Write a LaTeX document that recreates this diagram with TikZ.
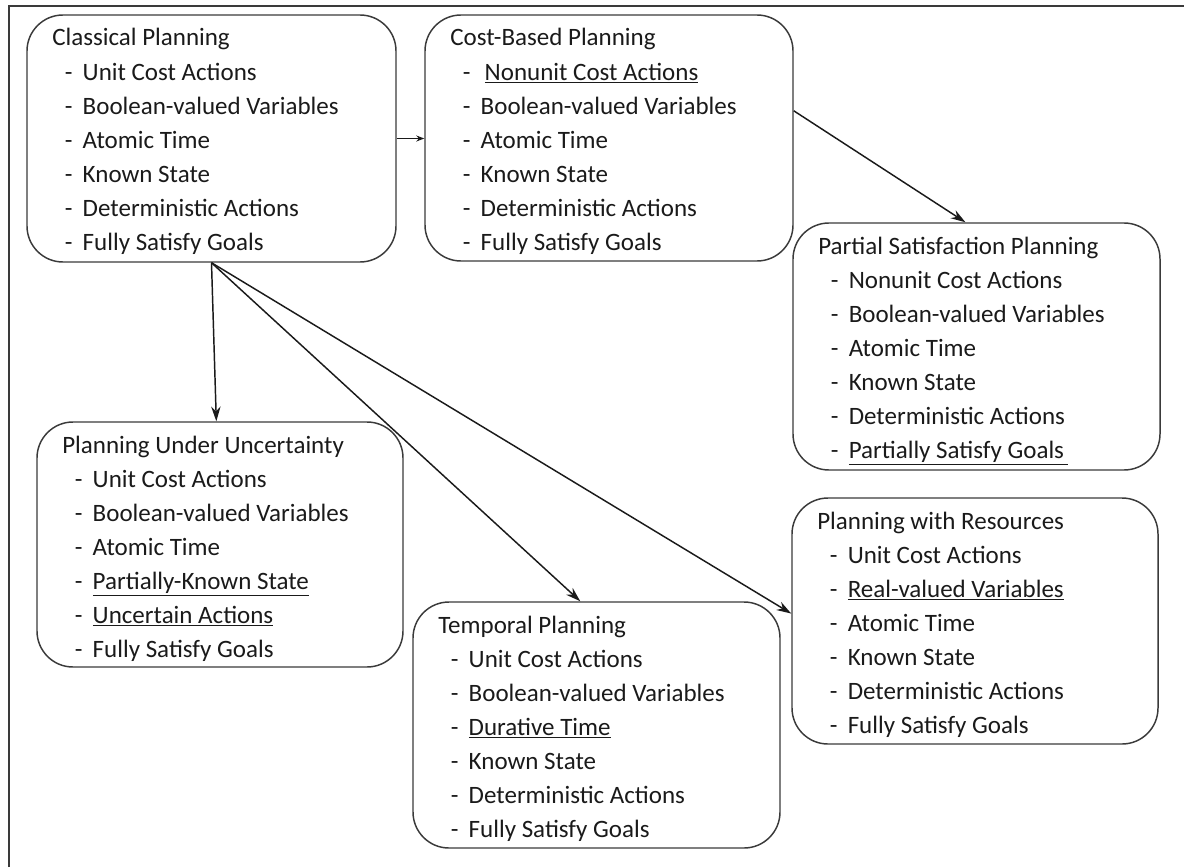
\documentclass[tikz,border=0pt]{standalone}
\usepackage{fontspec}
\setmainfont{Carlito}
\usetikzlibrary{arrows.meta,fit,calc}
\definecolor{ink}{HTML}{1A1A1A}
\definecolor{boxline}{HTML}{3A3A3A}
% one planning box: name, left, top, right, bottom, title, list of properties
\newcommand\planbox[7]{%
  \node[box, fit={(#2,#3) (#4,#5)}] (#1) {};
  \node[ttl] (#1-t) at (#2+25,#3+31) {#6};
  \foreach \s [count=\i] in {#7}
    \node[ttl] (#1-\i) at (#2+37.5,#3+31+34*\i) {\makebox[13.5pt][l]{-}\s};
}
\begin{document}
\begin{tikzpicture}[x=0.75pt,y=-0.75pt,
  box/.style={draw=boxline, line width=1.1pt, rounded corners=27pt, inner sep=0pt},
  ttl/.style={anchor=base west, inner sep=0pt, text=ink,
              font=\fontsize{18.75}{22}\selectfont},
  conn/.style={draw=ink, line width=1.1pt, -{Stealth[length=11pt,width=7pt]}},
  shortconn/.style={draw=ink, line width=0.8pt, -{Stealth[length=6pt,width=4.5pt]}},
  frame/.style={draw=boxline, line width=1.5pt}]
\useasboundingbox (0,0) rectangle (1184,867);
\draw[frame] (9,867) -- (9,6) -- (1184,6);

\planbox{cl}{27}{15}{396}{262}{Classical Planning}
  {Unit Cost Actions, Boolean-valued Variables, Atomic Time, Known State,
   Deterministic Actions, Fully Satisfy Goals}
\planbox{co}{425}{15}{793}{261}{Cost-Based Planning}
  {{\hspace{3pt}\underline{Nonunit Cost Actions}}, Boolean-valued Variables,
   Atomic Time, Known State, Deterministic Actions, Fully Satisfy Goals}
\planbox{pa}{793}{223}{1160}{470}{Partial Satisfaction Planning}
  {Nonunit Cost Actions, Boolean-valued Variables, Atomic Time, Known State,
   Deterministic Actions, {\underline{Partially Satisfy Goals\hspace{3pt}}}}
\planbox{un}{37}{422}{403}{667}{Planning Under Uncertainty}
  {Unit Cost Actions, Boolean-valued Variables, Atomic Time,
   {\underline{Partially-Known State}}, {\underline{Uncertain Actions}},
   Fully Satisfy Goals}
\planbox{te}{413}{602}{780}{848}{Temporal Planning}
  {Unit Cost Actions, Boolean-valued Variables, {\underline{Durative Time}},
   Known State, Deterministic Actions, Fully Satisfy Goals}
\planbox{re}{792}{498}{1158}{744}{Planning with Resources}
  {Unit Cost Actions, {\underline{Real-valued Variables}}, Atomic Time,
   Known State, Deterministic Actions, Fully Satisfy Goals}

% connectors
\draw[shortconn] (cl.east) -- (cl.east -| co.west);
\draw[conn] ($(co.north east)!0.39!(co.south east)$) -- ($(pa.north west)!0.47!(pa.north east)$);
\draw[conn] (cl.south) -- ($(un.north west)!0.49!(un.north east)$);
\draw[conn] (cl.south) -- ($(te.north west)!0.456!(te.north east)$);
\draw[conn] (cl.south) -- ($(re.north west)!0.47!(re.south west)$);
\end{tikzpicture}
\end{document}
